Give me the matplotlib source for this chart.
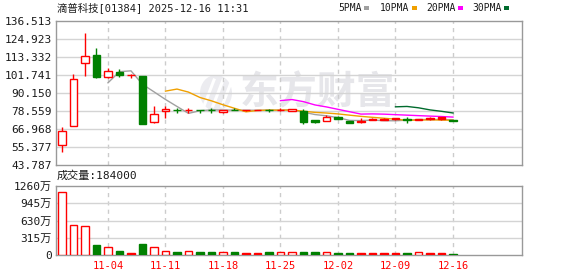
import matplotlib
matplotlib.use("Agg")
import matplotlib.pyplot as plt
from matplotlib.patches import Rectangle, Ellipse
import numpy as np
import pandas as pd

plt.rcParams['font.family'] = ['DejaVu Sans Mono', 'Noto Sans CJK SC', 'DejaVu Sans']

# ---------------- data ----------------
dates = ["10-29", "10-30", "10-31", "11-03", "11-04", "11-05", "11-06", "11-07",
         "11-10", "11-11", "11-12", "11-13", "11-14", "11-17", "11-18", "11-19",
         "11-20", "11-21", "11-24", "11-25", "11-26", "11-27", "11-28", "12-01",
         "12-02", "12-03", "12-04", "12-05", "12-08", "12-09", "12-10", "12-11",
         "12-12", "12-15", "12-16"]
opens = [56.7, 68.9, 109.3, 114.6, 100.6, 103.5, 101.9, 101.1, 71.7, 78.6,
         79.4, 79.2, 79.4, 79.2, 78.0, 79.5, 79.2, 79.5, 79.3, 78.9,
         78.6, 78.6, 72.8, 72.3, 74.7, 72.3, 72.3, 73.4, 73.6, 73.8,
         73.3, 72.6, 74.0, 74.4, 72.5]
highs = [68.5, 102.2, 129.0, 119.1, 106.2, 105.4, 102.5, 101.1, 81.8, 81.8,
         80.3, 80.6, 79.4, 80.5, 79.1, 80.3, 79.3, 79.5, 80.0, 80.3,
         80.0, 79.8, 72.8, 76.2, 75.5, 72.3, 73.9, 74.0, 73.8, 74.0,
         74.5, 73.1, 74.6, 74.6, 72.5]
lows = [52.0, 68.9, 101.3, 100.0, 100.0, 100.3, 100.0, 70.4, 71.0, 73.9,
        77.3, 77.1, 77.4, 77.1, 77.0, 79.0, 78.6, 79.0, 78.0, 78.5,
        78.3, 70.0, 71.0, 72.3, 73.4, 71.0, 71.0, 73.0, 72.8, 72.8,
        71.0, 72.5, 73.0, 72.8, 72.1]
closes = [65.9, 99.0, 113.8, 100.6, 104.3, 101.7, 101.75, 70.4, 76.4, 79.7,
          79.2, 79.4, 79.1, 79.0, 79.1, 79.0, 79.05, 79.1, 79.0, 79.2,
          80.0, 71.7, 71.5, 74.9, 73.4, 71.0, 71.2, 73.0, 73.0, 73.1,
          73.0, 73.1, 73.2, 73.3, 72.1]
volumes_wan = [1152, 553, 535, 180, 139, 72, 36, 198, 139, 67,
               54, 67, 54, 54, 49, 54, 36, 36, 54, 49,
               49, 54, 54, 49, 36, 36, 30, 30, 30, 30,
               36, 49, 30, 30, 18.4]
price_ticks = [43.787, 55.377, 66.968, 78.559, 90.150, 101.741, 113.332, 124.923, 136.513]
vol_ticks = [0, 315, 630, 945, 1260]
vol_tick_labels = ["0", "315万", "630万", "945万", "1260万"]
ma_periods = [5, 10, 20, 30]
ma_names = ["5PMA", "10PMA", "20PMA", "30PMA"]
title = "滴普科技[01384] 2025-12-16 11:31"
vol_title = "成交量:184000"
watermark = "东方财富"

# ---------------- styles ----------------
RED = "#ff0000"
GREEN = "#008000"
ma_colors = ["#a0a0a0", "#f0a000", "#ff00ff", "#006b2d"]
GRID = "#d4d4d4"
FRAME = "#999999"
TXT = "#1a1a1a"

W, H = 578, 276
fig = plt.figure(figsize=(W / 100, H / 100), dpi=100)

def fx(px):
    return px / W

def fy(py):
    return 1 - py / H

ax = fig.add_axes([fx(56), fy(165), fx(522 - 56), fy(21) - fy(165)])
axv = fig.add_axes([fx(56), fy(255), fx(522 - 56), fy(186) - fy(255)])

n = len(closes)
xs = np.arange(n)
bw = 0.64

colors = []
filled = []
for i in range(n):
    prev = closes[i - 1] if i > 0 else opens[i]
    up = closes[i] >= prev
    colors.append(RED if up else GREEN)
    filled.append((not up) or closes[i] < opens[i])

for i in range(n):
    c = colors[i]
    ax.plot([xs[i], xs[i]], [lows[i], highs[i]], color=c, lw=1, zorder=3,
            solid_capstyle='butt')
    lo = min(opens[i], closes[i])
    hgt = abs(closes[i] - opens[i])
    ax.add_patch(Rectangle((xs[i] - bw / 2, lo), bw, hgt,
                           facecolor=c if filled[i] else "white",
                           edgecolor=c, lw=1, zorder=4))
    axv.add_patch(Rectangle((xs[i] - bw / 2, 0), bw, volumes_wan[i],
                            facecolor=c if filled[i] else "white",
                            edgecolor=c, lw=1, zorder=4))

cs = pd.Series(closes)
for p, col in zip(ma_periods, ma_colors):
    ma = cs.rolling(p).mean()
    ax.plot(xs, ma.values, color=col, lw=1, zorder=2)

xlim = (-0.52, 40.0)
tick_idx = list(range(4, n, 5))
for a in (ax, axv):
    a.set_xlim(*xlim)
    for s in a.spines.values():
        s.set_color(FRAME)
        s.set_linewidth(1)
    for ti in tick_idx:
        a.axvline(ti, color="#cccccc", lw=1, ls=(0, (3, 3)), zorder=1)
    a.tick_params(length=0, labelsize=8, colors=TXT, pad=3)

ax.set_ylim(price_ticks[0], price_ticks[-1])
ax.set_yticks(price_ticks)
ax.set_yticklabels([f"{v:.3f}" for v in price_ticks])
for v in price_ticks[1:-1]:
    ax.axhline(v, color=GRID, lw=1, zorder=1)
ax.set_xticks([])

axv.set_ylim(0, vol_ticks[-1])
axv.set_yticks(vol_ticks)
axv.set_yticklabels(vol_tick_labels)
for v in vol_ticks[1:-1]:
    axv.axhline(v, color=GRID, lw=1, zorder=1)
axv.set_xticks(tick_idx)
axv.set_xticklabels([dates[i] for i in tick_idx], color=RED, fontsize=7.5)
axv.tick_params(axis='x', pad=4)

# watermark (logo + text)
ax.add_patch(Ellipse((fx(216), fy(93)), 32 / W, 36 / H, transform=fig.transFigure,
                     facecolor="#ececf0", edgecolor="none", zorder=0))
for k in range(3):
    ax.plot([fx(204 + 9 * k), fx(214 + 9 * k)], [fy(106), fy(80)],
            transform=fig.transFigure, color="white", lw=2.2, zorder=0.5)
ax.text(fx(240), fy(93), watermark, transform=fig.transFigure, fontsize=28,
        family=['Noto Sans CJK SC'], color="#e6e6ea", fontweight="bold",
        va="center", ha="left", zorder=0)

# titles
fig.text(fx(57), fy(8), title, fontsize=7.5, va="center", ha="left", color=TXT)
fig.text(fx(57), fy(176), vol_title, fontsize=8, va="center", ha="left", color=TXT)

# legend
leg_x = [338, 380, 426, 472]
for name, col, lx in zip(ma_names, ma_colors, leg_x):
    t = fig.text(fx(lx), fy(8), name, fontsize=7, va="center", ha="left", color=TXT)
    fig.canvas.draw()
    bb = t.get_window_extent()
    mx = bb.x1 + 3
    fig.patches.append(Rectangle((mx / W, fy(9.5)), 5 / W, 3 / H,
                                 facecolor=col, edgecolor='none',
                                 transform=fig.transFigure, figure=fig))

fig.savefig("out.png", dpi=100)
